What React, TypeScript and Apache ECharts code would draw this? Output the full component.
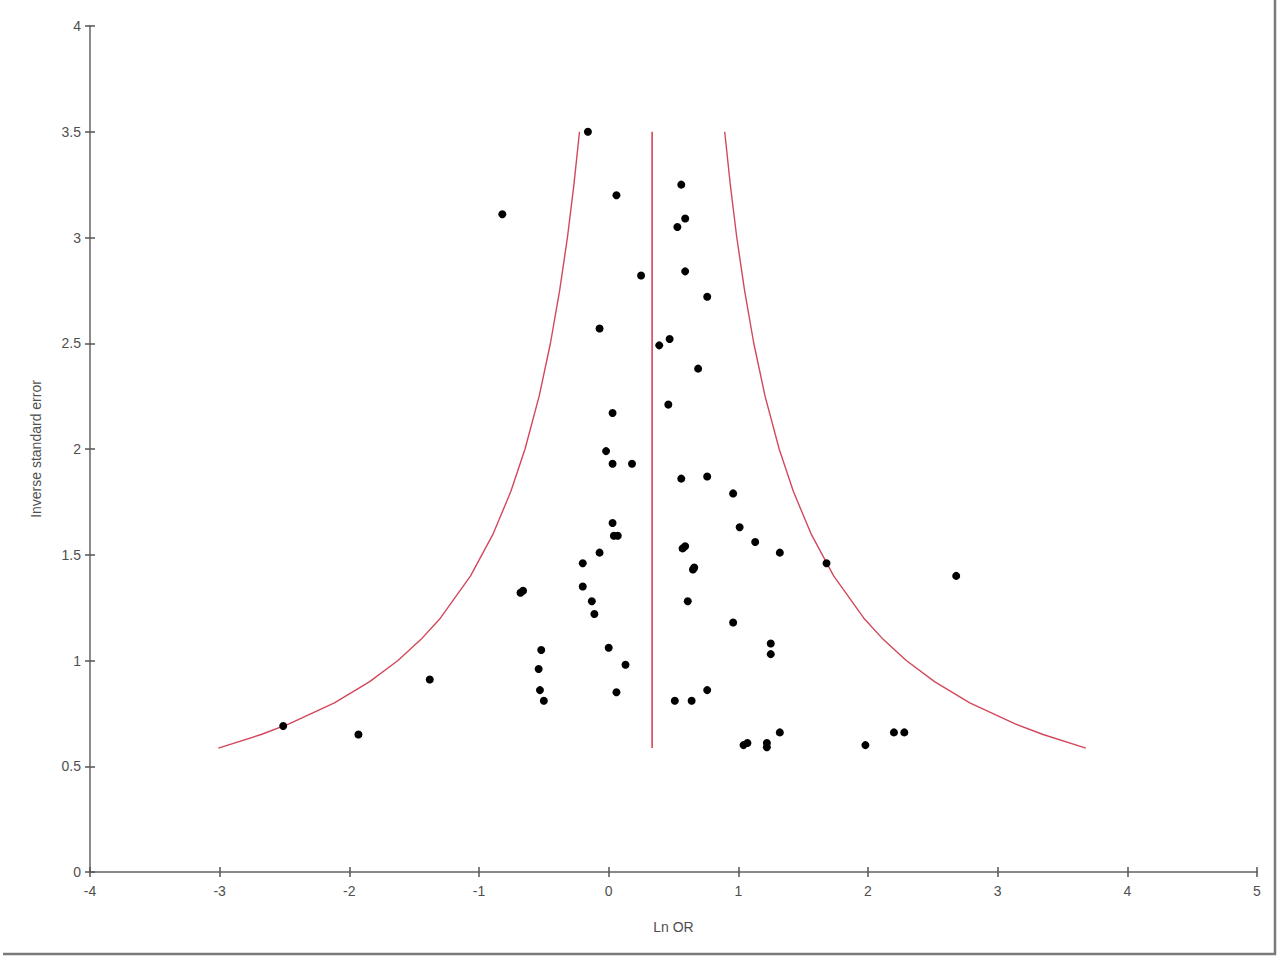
import React, { useEffect, useRef } from "react";
import * as echarts from "echarts";

// Study points: [Ln OR, inverse standard error]
const studyPoints: [number, number][] = [
  [-0.16, 3.5], [0.06, 3.2], [-0.82, 3.11], [0.56, 3.25], [0.59, 3.09], [0.53, 3.05],
  [0.25, 2.82], [0.59, 2.84], [0.76, 2.72], [-0.07, 2.57], [0.47, 2.52], [0.39, 2.49],
  [0.69, 2.38], [0.46, 2.21], [0.03, 2.17], [-0.02, 1.99], [0.03, 1.93], [0.18, 1.93],
  [0.56, 1.86], [0.76, 1.87], [0.96, 1.79], [0.03, 1.65], [1.01, 1.63], [1.13, 1.56],
  [0.04, 1.59], [0.07, 1.59], [-0.07, 1.51], [0.57, 1.53], [0.59, 1.54], [1.32, 1.51],
  [-0.2, 1.46], [1.68, 1.46], [0.66, 1.44], [0.65, 1.43], [2.68, 1.4], [-0.2, 1.35],
  [-0.66, 1.33], [-0.68, 1.32], [-0.13, 1.28], [0.61, 1.28], [-0.11, 1.22], [0.96, 1.18],
  [1.25, 1.08], [1.25, 1.03], [-0.52, 1.05], [0.0, 1.06], [0.13, 0.98], [-0.54, 0.96],
  [-1.38, 0.91], [-0.53, 0.86], [-0.5, 0.81], [0.06, 0.85], [0.76, 0.86], [0.51, 0.81],
  [0.64, 0.81], [-2.51, 0.69], [-1.93, 0.65], [1.32, 0.66], [1.04, 0.6], [1.07, 0.61],
  [1.22, 0.61], [1.22, 0.59], [1.98, 0.6], [2.2, 0.66], [2.28, 0.66],
];

// Funnel boundary nodes (inverse SE levels and corresponding Ln OR limits)
const funnelY = [0.586, 0.65, 0.7, 0.8, 0.9, 1.0, 1.1, 1.2, 1.4, 1.6, 1.8, 2.0, 2.25, 2.5, 2.75, 3.0, 3.25, 3.5];
const funnelLeftX = [-3.01, -2.68, -2.465, -2.115, -1.843, -1.625, -1.447, -1.298, -1.065, -0.89, -0.754, -0.645, -0.536, -0.449, -0.378, -0.318, -0.268, -0.225];
const funnelRightX = [3.68, 3.35, 3.135, 2.785, 2.513, 2.295, 2.117, 1.968, 1.735, 1.56, 1.424, 1.315, 1.206, 1.119, 1.048, 0.988, 0.938, 0.895];

const pooledX = 0.335;
const pooledYRange = [0.586, 3.5];

const xTicks = { min: -4, max: 5, interval: 1 };
const yTicks = { min: 0, max: 4, interval: 0.5 };

export default function App() {
  const ref = useRef<HTMLDivElement>(null);

  useEffect(() => {
    document.body.style.margin = "0";
    const chart = echarts.init(ref.current!, null, { renderer: "svg" });
    const font = "'Liberation Sans', Arial, sans-serif";
    const axisColor = "#8a8a8a";
    const tickColor = "#555555";
    const labelColor = "#4f4f4f";
    const red = "#d2485a";

    const baseX = {
      type: "value",
      min: xTicks.min,
      max: xTicks.max,
      interval: xTicks.interval,
      position: "bottom",
      splitLine: { show: false },
    };
    const baseY = {
      type: "value",
      min: yTicks.min,
      max: yTicks.max,
      interval: yTicks.interval,
      position: "left",
      splitLine: { show: false },
    };

    chart.setOption({
      animation: false,
      backgroundColor: "#ffffff",
      grid: { left: 90, right: 23, top: 26, bottom: 88 },
      xAxis: [
        {
          ...baseX,
          name: "Ln OR",
          nameLocation: "middle",
          nameGap: 48,
          nameTextStyle: { color: labelColor, fontSize: 14, fontFamily: font },
          axisLine: { onZero: false, lineStyle: { color: axisColor, width: 2 } },
          axisTick: { show: true, length: 5, lineStyle: { color: tickColor, width: 1.5 } },
          axisLabel: { color: labelColor, fontSize: 14, fontFamily: font, margin: 12 },
        },
        {
          ...baseX,
          axisLine: { show: false, onZero: false },
          axisTick: { show: true, inside: true, length: 5, lineStyle: { color: tickColor, width: 1.5 } },
          axisLabel: { show: false },
        },
      ],
      yAxis: [
        {
          ...baseY,
          name: "Inverse standard error",
          nameLocation: "middle",
          nameGap: 47,
          nameTextStyle: { color: labelColor, fontSize: 14, fontFamily: font },
          axisLine: { onZero: false, lineStyle: { color: axisColor, width: 2 } },
          axisTick: { show: true, length: 5, lineStyle: { color: tickColor, width: 1.5 } },
          axisLabel: { color: labelColor, fontSize: 14, fontFamily: font, margin: 9 },
        },
        {
          ...baseY,
          axisLine: { show: false, onZero: false },
          axisTick: { show: true, inside: true, length: 5, lineStyle: { color: tickColor, width: 1.5 } },
          axisLabel: { show: false },
        },
      ],
      series: [
        {
          type: "line",
          data: funnelY.map((y, i) => [funnelLeftX[i], y]),
          showSymbol: false,
          lineStyle: { color: red, width: 1.4 },
          z: 2,
        },
        {
          type: "line",
          data: funnelY.map((y, i) => [funnelRightX[i], y]),
          showSymbol: false,
          lineStyle: { color: red, width: 1.4 },
          z: 2,
        },
        {
          type: "line",
          data: [[pooledX, pooledYRange[0]], [pooledX, pooledYRange[1]]],
          showSymbol: false,
          lineStyle: { color: red, width: 1.6 },
          z: 2,
        },
        {
          type: "scatter",
          data: studyPoints,
          symbol: "circle",
          symbolSize: 8,
          itemStyle: { color: "#000000", opacity: 1 },
          z: 3,
        },
      ],
      graphic: [
        { type: "line", shape: { x1: 1275, y1: 0, x2: 1275, y2: 955 }, style: { stroke: "#7a7a7a", lineWidth: 2.5 } },
        { type: "line", shape: { x1: 3, y1: 954, x2: 1276, y2: 954 }, style: { stroke: "#7a7a7a", lineWidth: 2.5 } },
      ],
    });

    return () => chart.dispose();
  }, []);

  return <div ref={ref} style={{ width: 1280, height: 960 }} />;
}
